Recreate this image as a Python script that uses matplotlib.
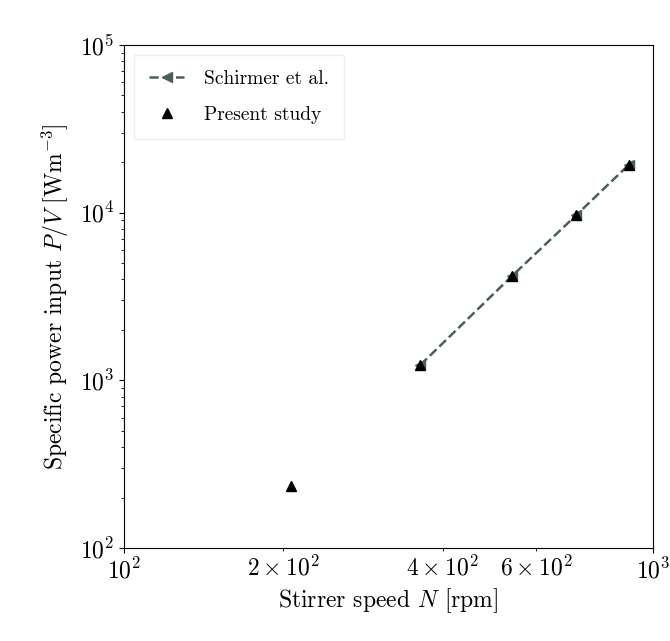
import numpy as np
import matplotlib
matplotlib.use("Agg")
import matplotlib.pyplot as plt

# computer modern look
plt.rcParams["font.family"] = "serif"
plt.rcParams["font.serif"] = ["cmr10", "DejaVu Serif"]
plt.rcParams["mathtext.fontset"] = "cm"
plt.rcParams["axes.formatter.use_mathtext"] = True
plt.rcParams["axes.unicode_minus"] = False

# data
schirmer_N = [363, 541, 716, 898]
schirmer_PV = [1234, 4190, 9680, 19200]
present_N = [207, 363, 541, 716, 898]
present_PV = [234, 1234, 4190, 9680, 19200]

x_minor_ticks = [200, 400, 600]
x_minor_labels = [r"$2\times10^{2}$", r"$4\times10^{2}$", r"$6\times10^{2}$"]

fig = plt.figure(figsize=(6.70, 6.41), dpi=100)
ax = fig.add_axes([0.185, 0.145, 0.790, 0.785])

ax.plot(schirmer_N, schirmer_PV, linestyle="--", color="#4a5e5e", marker="<",
        markersize=7, linewidth=1.8, label="Schirmer et al.")
ax.plot(present_N, present_PV, linestyle="none", color="black", marker="^",
        markersize=7, label="Present study")

ax.set_xscale("log")
ax.set_yscale("log")
ax.set_xlim(100, 1000)
ax.set_ylim(100, 1e5)

ax.set_xticks(x_minor_ticks, labels=x_minor_labels, minor=True)

ax.tick_params(labelsize=17)
ax.tick_params(which="minor", labelsize=17)
ax.set_xlabel(r"Stirrer speed $N$ [rpm]", fontsize=17, labelpad=2)
ax.set_ylabel(r"Specific power input $P/V$ [Wm$^{-3}$]", fontsize=17, labelpad=6)

ax.legend(loc="upper left", fontsize=14, fancybox=False, framealpha=0.8,
          edgecolor="0.92", handlelength=1.8, borderpad=0.8, labelspacing=0.9,
          handletextpad=1.0)

fig.savefig("out.png", dpi=100)
